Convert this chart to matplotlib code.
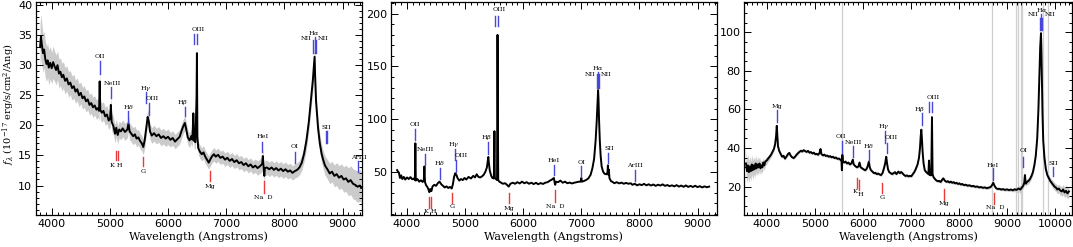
import numpy as np
import matplotlib
matplotlib.use('Agg')
import matplotlib.pyplot as plt
from matplotlib.ticker import MultipleLocator

plt.rcParams['mathtext.fontset'] = 'dejavuserif'

# ---------------- Panel 1 spectrum ----------------
p1_wave = [3800, 3815, 3830, 3850, 3870, 3890, 3910, 3930, 3950, 3975,
           4000, 4025, 4050, 4075, 4100, 4125, 4150, 4175, 4200, 4230,
           4260, 4290, 4320, 4350, 4380, 4410, 4440, 4470, 4500, 4530,
           4560, 4590, 4620, 4650, 4680, 4710, 4740, 4770, 4800, 4815,
           4825, 4835, 4860, 4890, 4920, 4950, 4980, 5005, 5017, 5030,
           5060, 5090, 5110, 5135, 5160, 5190, 5220, 5260, 5300, 5320,
           5340, 5370, 5400, 5430, 5460, 5490, 5520, 5550, 5575, 5600,
           5625, 5650, 5670, 5690, 5720, 5760, 5800, 5840, 5880, 5920,
           5960, 6000, 6040, 6080, 6120, 6160, 6200, 6230, 6260, 6290,
           6310, 6340, 6370, 6400, 6420, 6435, 6450, 6470, 6490, 6497,
           6505, 6520, 6550, 6580, 6610, 6640, 6670, 6700, 6730, 6760,
           6790, 6820, 6860, 6900, 6940, 6980, 7020, 7060, 7100, 7140,
           7180, 7220, 7260, 7300, 7340, 7380, 7420, 7460, 7500, 7540,
           7580, 7620, 7630, 7645, 7655, 7665, 7700, 7740, 7780, 7820,
           7860, 7900, 7940, 7980, 8020, 8060, 8100, 8140, 8180, 8220,
           8260, 8300, 8340, 8380, 8420, 8460, 8490, 8510, 8520, 8530,
           8545, 8560, 8580, 8610, 8640, 8670, 8700, 8740, 8780, 8820,
           8860, 8900, 8940, 8980, 9020, 9060, 9100, 9140, 9180, 9220,
           9260, 9300, 9320]
p1_flux = [33.0, 34.8, 33.5, 32.0, 32.6, 31.0, 30.2, 30.8, 29.6, 30.4,
           29.5, 30.5, 29.8, 29.2, 30.0, 28.6, 28.9, 28.0, 28.4, 27.4,
           27.8, 26.8, 27.1, 26.2, 26.5, 25.6, 26.0, 25.0, 25.4, 24.5,
           24.8, 24.0, 24.3, 23.4, 23.7, 23.0, 23.3, 22.6, 22.9, 22.4,
           27.3, 22.6, 22.1, 22.4, 21.5, 21.8, 20.8, 21.2, 23.4, 20.6,
           19.9, 18.6, 19.6, 18.4, 19.3, 19.0, 19.5, 18.9, 19.3, 20.3,
           19.0, 18.6, 18.2, 18.5, 17.8, 18.0, 17.4, 17.0, 16.4, 17.6,
           19.5, 21.4, 20.6, 19.0, 18.3, 18.7, 18.2, 18.5, 17.9, 18.2,
           17.8, 18.1, 17.6, 17.9, 17.3, 17.7, 18.1, 19.0, 19.8, 20.4,
           19.5, 18.0, 17.5, 18.2, 17.6, 22.0, 17.4, 17.2, 24.5, 32.0,
           18.0, 16.2, 15.6, 15.2, 15.5, 14.8, 14.3, 13.8, 14.4, 14.9,
           15.2, 14.8, 15.1, 14.6, 14.8, 14.3, 14.6, 14.1, 14.4, 13.9,
           14.2, 13.7, 13.9, 13.4, 13.7, 13.2, 13.5, 13.0, 13.3, 12.9,
           13.2, 13.6, 14.9, 12.8, 11.6, 12.9, 13.0, 12.7, 13.0, 12.6,
           12.9, 12.5, 12.8, 12.4, 12.7, 12.3, 12.5, 12.1, 12.4, 12.6,
           13.0, 13.8, 15.3, 17.5, 20.5, 24.5, 27.5, 30.0, 31.4, 28.0,
           24.0, 22.0, 19.5, 17.0, 15.3, 14.2, 13.3, 12.7, 12.0, 12.3,
           11.6, 11.9, 11.3, 11.6, 11.0, 11.2, 10.6, 10.9, 10.3, 10.1,
           9.8, 10.0, 9.6]
p1_err = [3.8, 3.6, 3.5, 3.2, 3.0, 3.1, 2.9, 2.8, 2.9, 2.7,
          2.6, 2.7, 2.5, 2.5, 2.4, 2.4, 2.3, 2.3, 2.2, 2.2,
          2.1, 2.1, 2.0, 2.0, 2.0, 1.9, 1.9, 1.9, 1.8, 1.8,
          1.8, 1.8, 1.7, 1.7, 1.7, 1.7, 1.6, 1.6, 1.6, 1.6,
          1.6, 1.6, 1.6, 1.5, 1.5, 1.5, 1.5, 1.5, 1.5, 1.5,
          1.5, 1.5, 1.5, 1.5, 1.4, 1.4, 1.4, 1.4, 1.4, 1.4,
          1.4, 1.4, 1.4, 1.4, 1.4, 1.3, 1.3, 1.3, 1.3, 1.3,
          1.3, 1.3, 1.3, 1.3, 1.3, 1.3, 1.3, 1.3, 1.3, 1.3,
          1.3, 1.3, 1.2, 1.2, 1.2, 1.2, 1.2, 1.2, 1.2, 1.2,
          1.2, 1.2, 1.2, 1.2, 1.2, 1.2, 1.2, 1.2, 1.2, 1.2,
          1.2, 1.1, 1.1, 1.1, 1.1, 1.1, 1.1, 1.1, 1.1, 1.1,
          1.1, 1.1, 1.1, 1.1, 1.1, 1.1, 1.1, 1.1, 1.1, 1.1,
          1.1, 1.1, 1.1, 1.1, 1.1, 1.1, 1.1, 1.1, 1.1, 1.2,
          1.2, 1.3, 1.3, 1.3, 1.3, 1.3, 1.2, 1.2, 1.2, 1.2,
          1.2, 1.2, 1.2, 1.2, 1.2, 1.2, 1.2, 1.2, 1.2, 1.2,
          1.2, 1.3, 1.3, 1.4, 1.5, 1.6, 1.7, 1.8, 1.8, 1.8,
          1.7, 1.6, 1.5, 1.5, 1.5, 1.5, 1.6, 1.6, 1.7, 1.7,
          1.8, 1.9, 2.0, 2.0, 2.1, 2.2, 2.3, 2.4, 2.5, 2.5,
          2.6, 2.6, 2.6]

# ---------------- Panel 2 spectrum ----------------
p2_wave = [3830, 3845, 3860, 3880, 3900, 3920, 3945, 3970, 4000, 4030,
           4060, 4090, 4120, 4136, 4144, 4152, 4180, 4210, 4240, 4270,
           4290, 4300, 4310, 4330, 4350, 4370, 4385, 4400, 4420, 4440,
           4470, 4500, 4530, 4560, 4590, 4620, 4650, 4680, 4710, 4740,
           4770, 4790, 4810, 4830, 4850, 4870, 4900, 4930, 4960, 4990,
           5020, 5060, 5100, 5140, 5170, 5200, 5230, 5260, 5290, 5320,
           5350, 5375, 5400, 5410, 5425, 5450, 5470, 5495, 5505, 5512,
           5530, 5550, 5558, 5563, 5570, 5590, 5620, 5650, 5690, 5720,
           5750, 5780, 5820, 5860, 5900, 5940, 5980, 6020, 6060, 6100,
           6140, 6180, 6220, 6260, 6300, 6340, 6380, 6420, 6460, 6495,
           6528, 6540, 6550, 6565, 6600, 6640, 6680, 6720, 6760, 6800,
           6840, 6880, 6920, 6960, 6990, 7000, 7010, 7040, 7080, 7120,
           7160, 7190, 7220, 7247, 7265, 7280, 7289, 7296, 7305, 7318,
           7333, 7350, 7375, 7400, 7430, 7450, 7458, 7466, 7474, 7484,
           7510, 7530, 7570, 7610, 7650, 7690, 7730, 7770, 7810, 7850,
           7880, 7920, 7960, 8000, 8040, 8080, 8120, 8160, 8200, 8240,
           8280, 8320, 8360, 8400, 8440, 8480, 8520, 8560, 8600, 8640,
           8680, 8720, 8760, 8800, 8840, 8880, 8920, 8960, 9000, 9040,
           9080, 9120, 9160, 9200]
p2_flux = [51.5, 50.0, 49.2, 44.0, 46.5, 43.0, 45.0, 42.5, 44.5, 43.0,
           44.8, 42.8, 43.5, 42.0, 77.0, 41.5, 43.0, 40.5, 41.8, 40.2,
           42.0, 55.0, 40.0, 37.0, 35.5, 33.0, 30.5, 33.5, 31.5, 36.0,
           37.5, 36.5, 39.0, 40.5, 38.0, 36.5, 35.0, 36.0, 34.5, 35.5,
           34.0, 38.0, 45.0, 48.5, 47.0, 44.0, 41.5, 43.0, 42.0, 44.0,
           42.5, 45.0, 43.5, 46.0, 44.5, 47.5, 45.0, 44.5, 45.5, 47.0,
           50.0, 54.0, 64.0, 58.0, 51.0, 46.0, 44.0, 43.5, 88.5, 44.0,
           43.0, 42.0, 180.0, 126.0, 42.0, 40.5, 39.5, 38.5, 39.0, 37.5,
           35.8, 38.5, 39.5, 38.5, 40.0, 38.8, 40.5, 39.0, 40.0, 38.5,
           39.5, 38.2, 39.4, 38.0, 39.2, 38.3, 39.5, 40.0, 41.5, 42.5,
           44.0, 40.0, 37.5, 40.5, 40.0, 41.5, 39.5, 40.5, 39.0, 39.6,
           38.8, 39.5, 40.0, 40.5, 40.5, 44.0, 40.5, 41.0, 42.0, 43.5,
           47.0, 53.0, 62.0, 80.0, 98.0, 118.0, 127.5, 119.0, 100.0, 80.0,
           65.0, 55.0, 50.0, 48.0, 47.5, 49.0, 56.0, 47.0, 52.0, 44.0,
           41.0, 40.5, 39.0, 40.0, 38.8, 39.6, 38.5, 39.3, 38.5, 39.0,
           37.5, 38.5, 37.0, 38.0, 37.2, 38.4, 37.0, 38.0, 36.8, 37.8,
           36.5, 37.6, 36.8, 37.9, 36.5, 37.3, 36.2, 37.0, 36.0, 37.2,
           35.8, 36.8, 35.6, 36.9, 35.5, 36.5, 35.4, 36.6, 35.3, 36.2,
           35.0, 36.0, 35.2, 35.8]

# ---------------- Panel 3 spectrum ----------------
p3_wave = [3570, 3590, 3610, 3630, 3650, 3670, 3690, 3710, 3730, 3750,
           3770, 3790, 3810, 3830, 3850, 3870, 3890, 3910, 3930, 3950,
           3970, 4000, 4030, 4060, 4090, 4120, 4150, 4175, 4195, 4210,
           4220, 4235, 4260, 4290, 4320, 4350, 4380, 4410, 4440, 4470,
           4500, 4530, 4560, 4590, 4620, 4650, 4680, 4710, 4740, 4770,
           4800, 4830, 4860, 4890, 4920, 4950, 4980, 5010, 5040, 5070,
           5100, 5120, 5140, 5170, 5200, 5230, 5260, 5290, 5320, 5350,
           5380, 5410, 5440, 5470, 5500, 5530, 5555, 5565, 5575, 5585,
           5610, 5640, 5670, 5700, 5730, 5760, 5793, 5810, 5850, 5880,
           5910, 5932, 5955, 5985, 6015, 6045, 6075, 6100, 6127, 6145,
           6170, 6200, 6230, 6260, 6290, 6320, 6350, 6380, 6410, 6440,
           6465, 6488, 6505, 6525, 6550, 6580, 6610, 6640, 6670, 6700,
           6740, 6770, 6800, 6830, 6860, 6890, 6920, 6950, 6980, 7010,
           7040, 7070, 7100, 7140, 7170, 7190, 7205, 7218, 7230, 7245,
           7265, 7290, 7320, 7345, 7365, 7378, 7390, 7425, 7440, 7452,
           7470, 7500, 7530, 7560, 7590, 7620, 7650, 7675, 7710, 7740,
           7770, 7800, 7830, 7860, 7890, 7920, 7950, 7980, 8010, 8040,
           8070, 8100, 8140, 8180, 8220, 8260, 8300, 8340, 8380, 8420,
           8460, 8500, 8540, 8580, 8620, 8660, 8690, 8715, 8740, 8770,
           8800, 8840, 8880, 8920, 8960, 9000, 9040, 9080, 9120, 9160,
           9200, 9240, 9280, 9310, 9340, 9360, 9375, 9390, 9420, 9450,
           9480, 9510, 9540, 9570, 9600, 9630, 9655, 9675, 9692, 9708,
           9718, 9728, 9740, 9755, 9780, 9810, 9840, 9870, 9900, 9930,
           9960, 9990, 10020, 10050, 10080, 10110, 10140, 10170, 10200, 10230,
           10260, 10290]
p3_flux = [32.0, 28.0, 31.0, 27.5, 30.5, 28.0, 31.5, 28.5, 31.0, 29.0,
           32.0, 29.5, 31.5, 30.0, 32.0, 29.5, 31.0, 30.0, 32.5, 31.0,
           33.0, 33.5, 34.5, 35.5, 36.5, 38.0, 39.5, 42.0, 46.0, 51.5,
           47.0, 41.0, 38.5, 37.0, 35.5, 36.0, 34.5, 35.5, 36.8, 37.5,
           36.0, 35.2, 34.8, 35.5, 36.5, 37.3, 38.0, 38.6, 38.2, 38.9,
           38.4, 38.0, 38.5, 37.6, 37.9, 37.2, 37.6, 36.8, 37.0, 36.5,
           37.5, 39.5, 36.8, 36.2, 36.6, 35.9, 36.1, 35.5, 35.8, 35.2,
           35.5, 34.8, 35.1, 34.4, 34.6, 34.0, 34.0, 28.5, 36.5, 33.0,
           32.5, 33.0, 32.0, 32.5, 31.5, 32.0, 34.0, 31.5, 30.5, 30.0,
           30.5, 32.5, 30.0, 29.5, 29.0, 28.5, 29.0, 30.5, 33.0, 30.0,
           28.5, 27.8, 27.0, 27.2, 26.5, 26.8, 26.3, 26.0, 27.0, 29.5,
           32.0, 35.5, 32.0, 29.0, 27.5, 27.0, 26.5, 27.0, 27.5, 26.5,
           27.8, 27.0, 27.6, 26.8, 26.0, 25.5, 25.8, 25.3, 25.6, 25.4,
           26.5, 27.5, 29.0, 31.5, 35.0, 40.0, 46.0, 49.5, 45.0, 38.0,
           32.0, 28.5, 27.5, 27.0, 26.5, 33.5, 26.0, 26.0, 56.0, 26.5,
           25.0, 24.0, 23.2, 22.8, 23.0, 22.4, 23.5, 24.3, 23.0, 22.5,
           22.8, 22.2, 22.6, 22.0, 22.3, 21.7, 22.0, 21.4, 21.7, 21.1,
           21.4, 20.8, 21.0, 20.5, 20.7, 20.2, 20.4, 19.9, 20.1, 19.6,
           19.8, 19.4, 19.6, 19.2, 19.5, 19.8, 20.8, 22.0, 20.5, 19.3,
           18.8, 18.9, 18.5, 18.7, 18.3, 18.6, 18.2, 18.5, 18.1, 18.6,
           18.3, 19.0, 18.5, 19.5, 20.5, 22.0, 26.0, 21.5, 22.5, 23.0,
           24.0, 25.5, 27.5, 31.0, 36.0, 45.0, 60.0, 78.0, 92.0, 99.5,
           90.0, 75.0, 58.0, 44.0, 35.0, 29.0, 26.0, 24.5, 23.0, 22.0,
           21.0, 20.0, 19.5, 18.5, 19.0, 18.0, 17.5, 18.5, 17.0, 17.8,
           16.5, 17.5]
p3_err = [7.0, 6.0, 6.0, 5.5, 5.5, 5.0, 5.0, 5.0, 4.5, 4.5,
          4.5, 4.0, 4.0, 4.0, 3.5, 3.5, 3.0, 3.0, 2.5, 2.5,
          2.0, 2.0, 1.5, 1.5, 1.2, 1.2, 1.0, 1.0, 1.0, 1.0,
          1.0, 1.0, 0.9, 0.9, 0.9, 0.8, 0.8, 0.8, 0.8, 0.8,
          0.8, 0.7, 0.7, 0.7, 0.7, 0.7, 0.7, 0.7, 0.7, 0.7,
          0.7, 0.7, 0.7, 0.7, 0.7, 0.7, 0.7, 0.7, 0.7, 0.7,
          0.7, 0.7, 0.7, 0.7, 0.7, 0.7, 0.7, 0.7, 0.7, 0.7,
          0.7, 0.7, 0.7, 0.7, 0.7, 0.7, 0.8, 1.0, 1.0, 0.8,
          0.7, 0.7, 0.7, 0.7, 0.7, 0.7, 0.7, 0.7, 0.7, 0.7,
          0.7, 0.7, 0.7, 0.7, 0.7, 0.7, 0.7, 0.7, 0.7, 0.7,
          0.7, 0.7, 0.7, 0.7, 0.7, 0.7, 0.7, 0.7, 0.7, 0.7,
          0.7, 0.7, 0.7, 0.7, 0.7, 0.7, 0.7, 0.7, 0.7, 0.7,
          0.7, 0.7, 0.7, 0.7, 0.7, 0.7, 0.7, 0.7, 0.7, 0.7,
          0.7, 0.7, 0.7, 0.7, 0.7, 0.7, 0.7, 0.7, 0.7, 0.7,
          0.7, 0.7, 0.7, 0.7, 0.7, 0.7, 0.7, 0.7, 0.7, 0.7,
          0.7, 0.7, 0.7, 0.7, 0.7, 0.7, 0.7, 0.7, 0.7, 0.7,
          0.7, 0.7, 0.7, 0.7, 0.7, 0.7, 0.7, 0.7, 0.7, 0.7,
          0.7, 0.7, 0.7, 0.7, 0.7, 0.7, 0.7, 0.7, 0.7, 0.7,
          0.7, 0.7, 0.7, 0.7, 0.7, 0.7, 0.8, 0.8, 0.8, 0.7,
          0.7, 0.7, 0.7, 0.7, 0.7, 0.8, 0.8, 0.8, 0.9, 1.0,
          1.5, 1.5, 2.0, 1.5, 1.5, 1.5, 1.5, 1.5, 1.5, 1.5,
          1.5, 1.5, 1.5, 1.5, 1.5, 1.5, 1.5, 1.5, 1.5, 1.5,
          1.5, 1.5, 1.5, 1.5, 1.5, 1.5, 1.5, 1.8, 1.8, 1.8,
          2.0, 2.0, 2.0, 2.2, 2.2, 2.4, 2.4, 2.6, 2.6, 2.8,
          2.8, 3.0]
p3_sky = [5575, 8698, 9185, 9233, 9289, 9320, 9755, 9860]

# ---------------- Line identifications ----------------
# (label, bar wavelengths, bar bottom, bar top, label x, label y)
p1_emission = [
    ("OII", [4827], 28.5, 30.7, 4827, 31.4),
    ("NeIII", [5017], 24.5, 26.3, 5045, 26.9),
    (r"H$\delta$", [5318], 20.4, 22.4, 5318, 23.0),
    (r"H$\gamma$", [5630], 23.7, 25.6, 5620, 26.2),
    ("OIII", [5665], 21.7, 23.7, 5735, 24.4),
    (r"H$\beta$", [6300], 21.5, 23.1, 6255, 23.8),
    ("OIII", [6439, 6497], 33.5, 35.2, 6515, 36.0),
    (r"H$\alpha$", [8520], 32.0, 34.6, 8515, 35.4),
    ("NII", [8495, 8545], 32.0, 34.2, 8375, 34.4),
    ("NII", [], 0, 0, 8665, 34.4),
    ("SII", [8712, 8730], 17.0, 19.0, 8725, 19.6),
    ("HeI", [7624], 15.6, 17.3, 7624, 18.1),
    ("OI", [8179], 13.8, 15.6, 8179, 16.5),
    ("ArIII", [9266], 12.2, 14.0, 9285, 14.7),
]
p1_absorption = [
    ("K H", [5098, 5139], 14.2, 15.8, 5118, 13.4),
    ("G", [5578], 13.2, 14.8, 5578, 12.4),
    ("Mg", [6717], 10.7, 12.4, 6717, 9.8),
    ("Na  D", [7653], 8.8, 10.7, 7645, 8.0),
]
p2_emission = [
    ("OII", [4144], 80.1, 90.3, 4144, 94.4),
    ("NeIII", [4305], 56.3, 66.8, 4316, 70.6),
    (r"H$\delta$", [4564], 42.7, 53.2, 4564, 57.9),
    (r"H$\gamma$", [4822], 61.1, 71.6, 4805, 75.4),
    ("OIII", [4851], 50.0, 61.1, 4937, 65.8),
    (r"H$\beta$", [5397], 66.8, 78.5, 5363, 82.6),
    ("OIII", [5512, 5564], 188.9, 198.4, 5581, 203.8),
    (r"H$\alpha$", [7289], 129.3, 145.1, 7289, 148.6),
    ("NII", [7276, 7302], 129.3, 143.0, 7151, 142.0),
    ("NII", [], 0, 0, 7421, 142.0),
    ("SII", [7461], 58.0, 68.0, 7479, 72.2),
    ("HeI", [6530], 46.8, 56.3, 6530, 61.0),
    ("OI", [7002], 45.2, 55.4, 7002, 58.9),
    ("ArIII", [7922], 41.1, 51.6, 7922, 55.7),
]
p2_absorption = [
    ("K H", [4380, 4408], 15.1, 26.2, 4403, 12.6),
    ("G", [4776], 20.5, 30.0, 4776, 16.7),
    ("Mg", [5748], 20.0, 30.0, 5748, 15.0),
    ("Na  D", [6547], 21.4, 32.5, 6560, 17.3),
]
p3_emission = [
    ("Mg", [4222], 53.7, 59.7, 4222, 61.5),
    ("OII", [5564], 37.6, 43.6, 5550, 45.9),
    ("NeIII", [5793], 35.2, 41.3, 5800, 43.0),
    (r"H$\delta$", [6127], 33.3, 39.0, 6127, 41.3),
    (r"H$\gamma$", [6467], 42.8, 48.9, 6439, 51.1),
    ("OIII", [6502], 37.3, 42.8, 6592, 45.4),
    (r"H$\beta$", [7232], 52.0, 58.0, 7183, 60.1),
    ("OIII", [7371, 7440], 58.5, 64.1, 7461, 66.3),
    (r"H$\alpha$", [9713], 101.2, 109.5, 9720, 111.6),
    ("NII", [9690, 9740], 101.2, 107.5, 9546, 109.0),
    ("NII", [], 0, 0, 9894, 109.0),
    ("SII", [9949], 25.5, 30.4, 9960, 32.1),
    ("HeI", [8712], 23.5, 29.5, 8712, 31.2),
    ("OI", [9338], 30.4, 35.5, 9338, 38.5),
]
p3_absorption = [
    ("K", [5877], 19.1, 24.3, 5842, 17.4),
    ("H", [5918], 18.3, 23.5, 5953, 15.7),
    ("G", [6398], 16.5, 22.1, 6398, 14.3),
    ("Mg", [7690], 13.1, 18.6, 7690, 11.0),
    ("Na  D", [8733], 11.0, 16.9, 8747, 9.1),
]

BLUE = '#4848d8'
RED = '#e83c3c'
SERIF = 'DejaVu Serif'

W, H = 1073, 247
fig = plt.figure(figsize=(W / 100, H / 100), dpi=100)


def panel(rect, wave, flux, err, xlim, ylim, ymaj, ymin_, xmaj, em, ab,
          sky=(), ylabel=None):
    ax = fig.add_axes(rect)
    for s in sky:
        ax.axvline(s, color='#cfcfcf', lw=0.9, zorder=0)
    wave = np.asarray(wave, float)
    flux = np.asarray(flux, float)
    if err is not None:
        err = np.asarray(err, float)
        ax.fill_between(wave, flux - err, flux + err, color='#cbcbcb',
                        lw=0, zorder=1)
    ax.plot(wave, flux, color='black', lw=1.4, zorder=2)
    for lab, ws, lo, hi, tx, ty in em:
        for w in ws:
            ax.plot([w, w], [lo, hi], color=BLUE, lw=1.0, zorder=3)
        ax.text(tx, ty, lab, fontsize=4.6, family=SERIF, ha='center',
                va='center', zorder=4)
    for lab, ws, lo, hi, tx, ty in ab:
        for w in ws:
            ax.plot([w, w], [lo, hi], color=RED, lw=1.0, zorder=3)
        ax.text(tx, ty, lab, fontsize=4.6, family=SERIF, ha='center',
                va='center', zorder=4)
    ax.set_xlim(*xlim)
    ax.set_ylim(*ylim)
    ax.xaxis.set_major_locator(MultipleLocator(xmaj))
    ax.xaxis.set_minor_locator(MultipleLocator(100))
    ax.yaxis.set_major_locator(MultipleLocator(ymaj))
    ax.yaxis.set_minor_locator(MultipleLocator(ymin_))
    ax.tick_params(which='both', direction='in', top=True, right=True,
                   width=0.7, labelsize=8)
    ax.tick_params(axis='x', pad=3)
    ax.tick_params(axis='y', pad=2.5)
    ax.tick_params(which='major', length=5)
    ax.tick_params(which='minor', length=2.5)
    for sp in ax.spines.values():
        sp.set_linewidth(0.9)
    ax.set_xlabel('Wavelength (Angstroms)', family=SERIF, fontsize=8,
                  labelpad=1.5)
    if ylabel:
        ax.set_ylabel(ylabel, family=SERIF, fontsize=7)
        ax.yaxis.set_label_coords(-19.0 / (rect[2] * W), 0.52)
    return ax


top = 1 - 2.3 / H
bot = 1 - 215 / H
hgt = top - bot

panel([35.7 / W, bot, 326 / W, hgt], p1_wave, p1_flux, p1_err,
      (3725, 9330), (5.1, 40.45), 5, 1, 1000, p1_emission, p1_absorption,
      ylabel=r'$f_\lambda$ (10$^{-17}$ erg/s/cm$^2$/Ang)')
panel([391 / W, bot, 325.7 / W, hgt], p2_wave, p2_flux, None,
      (3725, 9330), (8.8, 211), 50, 10, 1000, p2_emission, p2_absorption)
panel([744.3 / W, bot, 327.7 / W, hgt], p3_wave, p3_flux, p3_err,
      (3534, 10354), (5.3, 115.5), 20, 5, 1000, p3_emission, p3_absorption,
      sky=p3_sky)

fig.savefig('out.png', dpi=100)
